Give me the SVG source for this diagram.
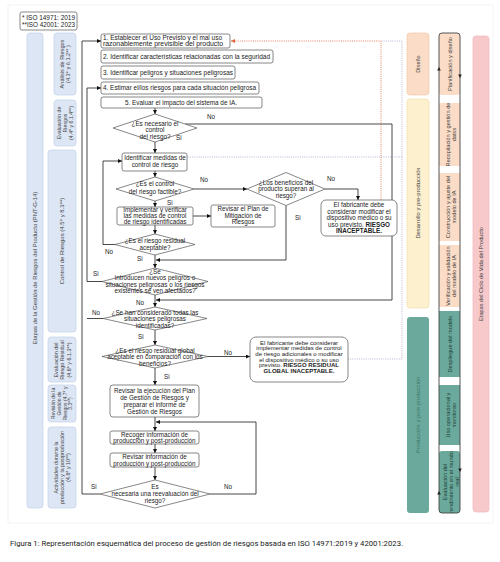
<svg xmlns="http://www.w3.org/2000/svg" width="500" height="562" viewBox="0 0 500 562">
<style>
.t{font-family:"Liberation Sans",Arial,sans-serif;font-size:6.3px;fill:#222}
.c{text-anchor:middle}
.b{font-weight:bold}
.box{fill:#fff;stroke:#555;stroke-width:0.7}
.ln{fill:none;stroke:#1a1a1a;stroke-width:0.8}
.dot{fill:none;stroke-width:0.8;stroke-dasharray:1 1.2}
.blue{fill:#dce6f5;stroke:#c2d1ea;stroke-width:0.7}
.peach{fill:#fbdcc6}
.yel{fill:#fdf0cf;stroke:#f2dfac;stroke-width:0.7}
.teal{fill:#6aa99b}
.rl{font-family:"Liberation Sans",Arial,sans-serif;font-size:5.6px;fill:#444;text-anchor:middle}
</style>
<defs>
<marker id="ah" viewBox="0 0 6 6" refX="6" refY="3" markerWidth="4" markerHeight="4" markerUnits="userSpaceOnUse" orient="auto"><path d="M0,0L6,3L0,6z" fill="#111"/></marker>
<marker id="ao" viewBox="0 0 6 6" refX="6" refY="3" markerWidth="4" markerHeight="4" markerUnits="userSpaceOnUse" orient="auto"><path d="M0,0L6,3L0,6z" fill="#e0603a"/></marker>
</defs>
<rect x="0" y="0" width="500" height="562" fill="#fff"/>
<rect x="8" y="5" width="485" height="518" fill="none" stroke="#ececec" stroke-width="0.6"/>

<!-- legend -->
<g id="iso">
<rect x="20" y="12" width="57" height="18" rx="2" fill="#fff" stroke="#555" stroke-width="0.7"/>
<text class="t c" x="48.5" y="19.5" textLength="53" lengthAdjust="spacingAndGlyphs">* ISO 14971: 2019</text>
<text class="t c" x="48.5" y="27" textLength="53" lengthAdjust="spacingAndGlyphs">**ISO 42001: 2023</text>
</g>

<!-- left columns -->
<g id="etapas-gestion">
<rect class="blue" x="27" y="33" width="16" height="475" rx="3"/>
<text class="rl" transform="translate(37,268) rotate(-90)" style="font-size:5.9px">Etapas de la Gestión de Riesgos del Producto (PNT-G-14)</text>
</g>
<g id="analisis">
<rect class="blue" x="54" y="33" width="22" height="62" rx="3"/>
<text class="rl" transform="translate(65,64) rotate(-90)"><tspan x="0" dy="-1.5">Análisis de Riesgos</tspan><tspan x="0" dy="6.5">(4.3* y 6.1.2** )</tspan></text>
</g>
<g id="evaluacion">
<rect class="blue" x="54" y="100" width="22" height="46" rx="3"/>
<text class="rl" transform="translate(65,123) rotate(-90)" style="font-size:5.2px"><tspan x="0" dy="-4">Evaluación de</tspan><tspan x="0" dy="6">Riesgos</tspan><tspan x="0" dy="6">(4.4* y 6.1.4**)</tspan></text>
</g>
<g id="control">
<rect class="blue" x="48" y="150" width="28" height="182" rx="3"/>
<text class="rl" transform="translate(64,241) rotate(-90)" style="font-size:6px">Control de Riesgos (4.5* y 8.3**)</text>
</g>
<g id="residual">
<rect class="blue" x="48" y="337" width="28" height="45" rx="3"/>
<text class="rl" transform="translate(62,360) rotate(-90)" style="font-size:5.4px"><tspan x="0" dy="-4.5">Evaluación del</tspan><tspan x="0" dy="6.5">Riesgo Residual</tspan><tspan x="0" dy="6.5">(4.6* y 6.1.3**)</tspan></text>
</g>
<g id="revision">
<rect class="blue" x="48" y="385" width="28" height="37" rx="3"/>
<text class="rl" transform="translate(62,403.5) rotate(-90)" style="font-size:5px"><tspan x="0" dy="-7">Revisión de la</tspan><tspan x="0" dy="5.8">Gestión de</tspan><tspan x="0" dy="5.8">Riesgos (4.7* y</tspan><tspan x="0" dy="5.8">3.3**)</tspan></text>
</g>
<g id="actividades">
<rect class="blue" x="48" y="427" width="28" height="81" rx="3"/>
<text class="rl" transform="translate(62,467.5) rotate(-90)" style="font-size:5.3px"><tspan x="0" dy="-4.5">Actividades durante la</tspan><tspan x="0" dy="6.4">producción y la postproducción</tspan><tspan x="0" dy="6.4">(4.8* y 10**)</tspan></text>
</g>

<!-- right columns -->
<g id="diseno">
<rect class="peach" x="407" y="33" width="22" height="62" rx="3" stroke="#f1caa9" stroke-width="0.7"/>
<text class="rl" transform="translate(420,64) rotate(-90)">Diseño</text>
</g>
<g id="desarrollo">
<rect class="yel" x="407" y="99" width="22" height="209" rx="3"/>
<text class="rl" transform="translate(420,203) rotate(-90)" style="font-size:5.8px">Desarrollo y pre-producción</text>
</g>
<g id="produccion">
<rect class="teal" x="407" y="317" width="22" height="196" rx="3"/>
<text class="rl" transform="translate(420,415) rotate(-90)" style="fill:#3f7a6d;font-size:5.8px">Producción y post-producción</text>
</g>

<g id="ciclo-ia">
<rect class="peach" x="439" y="33" width="21" height="62" rx="3"/>
<rect class="peach" x="439" y="103" width="21" height="63"/>
<rect class="peach" x="439" y="173" width="21" height="68"/>
<rect class="peach" x="439" y="245" width="21" height="62"/>
<rect class="teal" x="439" y="311" width="21" height="66"/>
<rect class="teal" x="439" y="385" width="21" height="60"/>
<rect class="teal" x="439" y="451" width="21" height="62" rx="3"/>
<rect x="439" y="33" width="21" height="480" rx="3" fill="none" stroke="#444" stroke-width="0.9"/>
<path d="M439,67l-1.8,3.5h3.6z M460,78l-1.8,-3.5h3.6z M439,491l-1.8,3.5h3.6z M460,472l-1.8,-3.5h3.6z" fill="#222"/>
<text class="rl" transform="translate(451.5,64) rotate(-90)">Planificación y diseño</text>
<text class="rl" transform="translate(449.5,134.5) rotate(-90)"><tspan x="0" dy="0">Recopilación y gestión de</tspan><tspan x="0" dy="6.2">datos</tspan></text>
<text class="rl" transform="translate(449.5,207) rotate(-90)"><tspan x="0" dy="0">Construcción y ajuste del</tspan><tspan x="0" dy="6.2">modelo de IA</tspan></text>
<text class="rl" transform="translate(449.5,276) rotate(-90)"><tspan x="0" dy="0">Verificación y validación</tspan><tspan x="0" dy="6.2">del modelo de IA</tspan></text>
<text class="rl" transform="translate(451.5,344) rotate(-90)" style="fill:#1f3f38">Despliegue del modelo</text>
<text class="rl" transform="translate(449.5,415) rotate(-90)" style="fill:#1f3f38"><tspan x="0" dy="0">Uso operacional y</tspan><tspan x="0" dy="6.2">monitoreo</tspan></text>
<text class="rl" transform="translate(449.5,482) rotate(-90)" style="fill:#1f3f38"><tspan x="0" dy="-3">Evaluación del</tspan><tspan x="0" dy="6.2">rendimiento en el mundo</tspan><tspan x="0" dy="6.2">real</tspan></text>
</g>

<g id="ciclo-vida">
<rect x="473" y="36" width="16" height="476" rx="3" fill="#f7c9cb" stroke="#efb7ba" stroke-width="0.7"/>
<text class="rl" transform="translate(483,274) rotate(-90)">Etapas del Ciclo de Vida del Producto</text>
</g>

<!-- connectors -->
<g id="connectors">
<path class="ln" d="M155,108V114" marker-end="url(#ah)"/>
<path class="ln" d="M155,142V153" marker-end="url(#ah)"/>
<path class="ln" d="M155,171V177" marker-end="url(#ah)"/>
<path class="ln" d="M155,201V207" marker-end="url(#ah)"/>
<path class="ln" d="M155,225V234" marker-end="url(#ah)"/>
<path class="ln" d="M155,255V268" marker-end="url(#ah)"/>
<path class="ln" d="M155,295V307" marker-end="url(#ah)"/>
<path class="ln" d="M155,330V345" marker-end="url(#ah)"/>
<path class="ln" d="M155,368V385" marker-end="url(#ah)"/>
<path class="ln" d="M155,417V431" marker-end="url(#ah)"/>
<path class="ln" d="M155,444V453" marker-end="url(#ah)"/>
<path class="ln" d="M155,467V480" marker-end="url(#ah)"/>
<path class="ln" d="M185,124H392V300H156" marker-end="url(#ah)"/>
<path class="ln" d="M194,189H247" marker-end="url(#ah)"/>
<path class="ln" d="M193,216H211" marker-end="url(#ah)"/>
<path class="ln" d="M115,244.5H103V161H122" marker-end="url(#ah)"/>
<path class="ln" d="M325,189H358V200" marker-end="url(#ah)"/>
<path class="ln" d="M286,205.5V260H156" marker-end="url(#ah)"/>
<path class="ln" d="M102,281.5H87V88H101" marker-end="url(#ah)"/>
<path class="ln" d="M103,318.5H87"/>
<path class="ln" d="M208,356.5H250" marker-end="url(#ah)"/>
<path class="ln" d="M100,494H82V41H101" marker-end="url(#ah)"/>
<path class="ln" d="M210,494H256V422H156" marker-end="url(#ah)"/>
<path class="dot" stroke="#e0603a" d="M381,200V41H231" marker-end="url(#ao)"/>
<path class="dot" stroke="#a9a2cc" d="M348,359H402V41H381"/>
<path class="dot" stroke="#a9a2cc" d="M402,157H187"/>
<text class="t" x="207" y="119">No</text>
<text class="t" x="176" y="139.5">Si</text>
<text class="t" x="200" y="182">No</text>
<text class="t" x="167" y="204.5">Si</text>
<text class="t" x="105" y="254">No</text>
<text class="t" x="137" y="260.5">Si</text>
<text class="t" x="327" y="181">No</text>
<text class="t" x="295" y="220">Si</text>
<text class="t" x="93" y="276">Si</text>
<text class="t" x="136" y="304.5">No</text>
<text class="t" x="92" y="315">No</text>
<text class="t" x="138" y="338.5">Si</text>
<text class="t" x="224" y="355">No</text>
<text class="t" x="164" y="379">Si</text>
<text class="t" x="91" y="489">Si</text>
<text class="t" x="224" y="489">No</text>
</g>

<!-- steps -->
<g id="paso1">
<rect class="box" x="101" y="34" width="129" height="14" rx="2"/>
<text class="t" x="103" y="39.8" textLength="119" lengthAdjust="spacingAndGlyphs">1. Establecer el Uso Previsto y el mal uso</text>
<text class="t" x="103" y="46.3" textLength="120" lengthAdjust="spacingAndGlyphs">razonablemente previsible del producto</text>
</g>
<g id="paso2">
<rect class="box" x="101" y="50" width="172" height="13" rx="2"/>
<text class="t" x="103" y="58.7" textLength="167" lengthAdjust="spacingAndGlyphs">2. Identificar características relacionadas con la seguridad</text>
</g>
<g id="paso3">
<rect class="box" x="101" y="66" width="134" height="13" rx="2"/>
<text class="t" x="103" y="74.7" textLength="130" lengthAdjust="spacingAndGlyphs">3. Identificar peligros y situaciones peligrosas</text>
</g>
<g id="paso4">
<rect class="box" x="101" y="82" width="158" height="12" rx="2"/>
<text class="t" x="103" y="90.2" textLength="153" lengthAdjust="spacingAndGlyphs">4. Estimar el/los riesgos para cada situación peligrosa</text>
</g>
<g id="paso5">
<rect class="box" x="101" y="97" width="161" height="11" rx="2"/>
<text class="t c" x="181" y="104.7" textLength="112" lengthAdjust="spacingAndGlyphs">5. Evaluar el impacto del sistema de IA.</text>
</g>

<g id="d-necesario">
<polygon class="box" points="113,128 155,114 197,128 155,142"/>
<text class="t c" x="155" y="126">¿Es necesario el</text>
<text class="t c" x="155" y="132.3">control</text>
<text class="t c" x="155" y="138.6">del riesgo?</text>
</g>
<g id="identificar">
<rect class="box" x="122" y="153" width="65" height="18" rx="2"/>
<text class="t c" x="155" y="160.3">Identificar medidas de</text>
<text class="t c" x="155" y="167.3">control de riesgo</text>
</g>
<g id="d-factible">
<polygon class="box" points="116,189 155,177 194,189 155,201"/>
<text class="t c" x="155" y="186.3">¿Es el control</text>
<text class="t c" x="155" y="193.5">del riesgo factible?</text>
</g>
<g id="implementar">
<rect class="box" x="117" y="207" width="76" height="18" rx="2"/>
<text class="t c" x="155" y="212.3">Implementar y verificar</text>
<text class="t c" x="155" y="218.3">las medidas de control</text>
<text class="t c" x="155" y="224.3">de riesgo identificadas</text>
</g>
<g id="revisar-plan">
<rect class="box" x="211" y="205" width="64" height="22" rx="2"/>
<text class="t c" x="243" y="211.3">Revisar el Plan de</text>
<text class="t c" x="243" y="217.8">Mitigación de</text>
<text class="t c" x="243" y="224.3">Riesgos</text>
</g>
<g id="d-aceptable">
<polygon class="box" points="115,244.5 155,234 195,244.5 155,255"/>
<text class="t c" x="155" y="243.3">¿Es el riesgo residual</text>
<text class="t c" x="155" y="250">aceptable?</text>
</g>
<g id="d-beneficios">
<polygon class="box" points="247,189 286,172.5 325,189 286,205.5"/>
<text class="t c" x="286" y="185">¿Los beneficios del</text>
<text class="t c" x="286" y="191.3">producto superan al</text>
<text class="t c" x="286" y="197.6">riesgo?</text>
</g>
<g id="inaceptable">
<rect class="box" x="321" y="200" width="76" height="36" rx="5"/>
<text class="t c" x="359" y="207.3">El fabricante debe</text>
<text class="t c" x="359" y="213.8">considerar modificar el</text>
<text class="t c" x="359" y="220.3">dispositivo médico o su</text>
<text class="t c" x="359" y="226.8">uso previsto. <tspan class="b">RIESGO</tspan></text>
<text class="t c b" x="359" y="233.3">INACEPTABLE.</text>
</g>
<g id="d-nuevos">
<polygon class="box" points="102,281.5 155,268 208,281.5 155,295"/>
<text class="t c" x="155" y="273.8">¿Se</text>
<text class="t c" x="155" y="280">introducen nuevos peligros o</text>
<text class="t c" x="155" y="286.5">situaciones peligrosas o los riesgos</text>
<text class="t c" x="155" y="293">existentes se ven afectados?</text>
</g>
<g id="d-todas">
<polygon class="box" points="103,318.5 155,307 207,318.5 155,330"/>
<text class="t c" x="155" y="314.8">¿Se han considerado todas las</text>
<text class="t c" x="155" y="321.3">situaciones peligrosas</text>
<text class="t c" x="155" y="327.8">identificadas?</text>
</g>
<g id="d-global">
<polygon class="box" points="102,356.5 155,345 208,356.5 155,368"/>
<text class="t c" x="155" y="352.8">¿Es el riesgo residual global</text>
<text class="t c" x="155" y="359.3">aceptable en comparación con los</text>
<text class="t c" x="155" y="365.8">beneficios?</text>
</g>
<g id="global-inaceptable">
<rect class="box" x="250" y="337" width="98" height="45" rx="6"/>
<text class="t c" x="299" y="344.5" style="font-size:6px">El fabricante debe considerar</text>
<text class="t c" x="299" y="350.2" style="font-size:6px">implementar medidas de control</text>
<text class="t c" x="299" y="355.9" style="font-size:6px">de riesgo adicionales o modificar</text>
<text class="t c" x="299" y="361.6" style="font-size:6px">el dispositivo médico o su uso</text>
<text class="t c" x="299" y="367.3" style="font-size:6px">previsto. <tspan class="b">RIESGO RESIDUAL</tspan></text>
<text class="t c b" x="299" y="373" style="font-size:6px">GLOBAL INACEPTABLE.</text>
</g>
<g id="revisar-ejecucion">
<rect class="box" x="110" y="385" width="89" height="32" rx="3"/>
<text class="t c" x="154.5" y="393.3">Revisar la ejecución del Plan</text>
<text class="t c" x="154.5" y="400.3">de Gestión de Riesgos y</text>
<text class="t c" x="154.5" y="407.3">preparar el informe de</text>
<text class="t c" x="154.5" y="414.3">Gestión de Riesgos</text>
</g>
<g id="recoger">
<rect class="box" x="110" y="431" width="89" height="13" rx="2"/>
<text class="t c" x="154.5" y="436.8">Recoger información de</text>
<text class="t c" x="154.5" y="442.8">producción y post-producción</text>
</g>
<g id="revisar-info">
<rect class="box" x="110" y="453" width="89" height="14" rx="2"/>
<text class="t c" x="154.5" y="459.3">Revisar información de</text>
<text class="t c" x="154.5" y="465.8">producción y post-producción</text>
</g>
<g id="d-reevaluacion">
<polygon class="box" points="100,494 155,480 210,494 155,508"/>
<text class="t c" x="155" y="489">Es</text>
<text class="t c" x="155" y="496.2">necesaria una reevaluación del</text>
<text class="t c" x="155" y="503.4">riesgo?</text>
</g>

<text x="10" y="546" textLength="393" lengthAdjust="spacingAndGlyphs" style="font-family:Roboto,'Liberation Sans',sans-serif;font-size:7.8px;fill:#1a1a1a">Figura 1: Representación esquemática del proceso de gestión de riesgos basada en ISO 14971:2019 y 42001:2023.</text>
</svg>
